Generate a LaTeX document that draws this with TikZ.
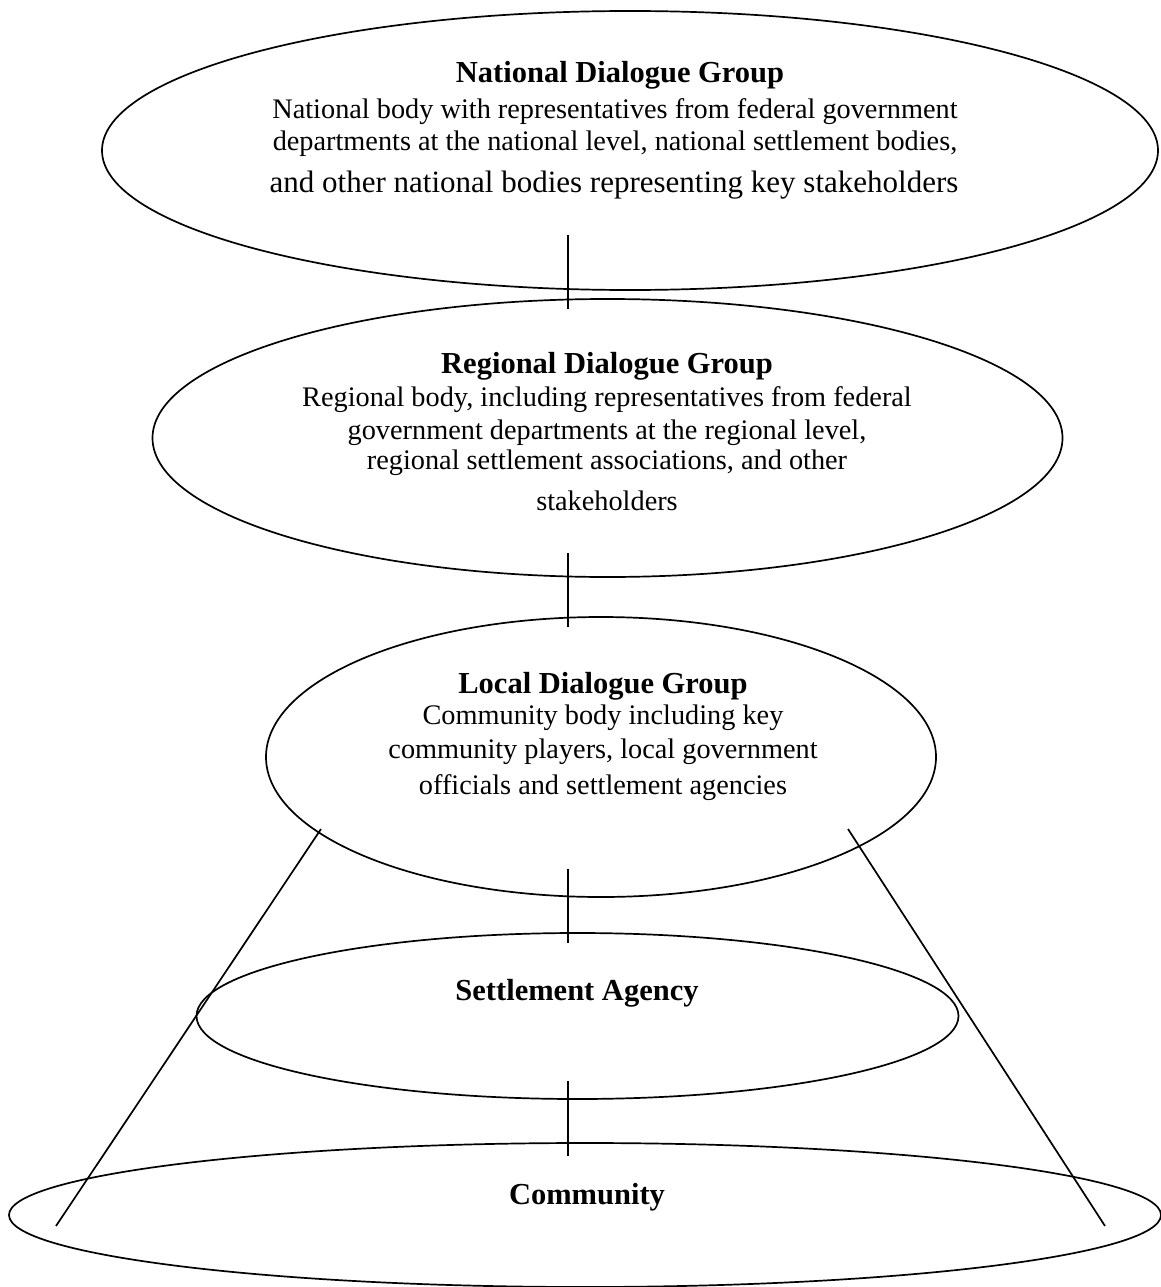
\documentclass[tikz,border=0pt]{standalone}
\usepackage{fontspec}
\setmainfont{Liberation Serif}
\usetikzlibrary{shapes.geometric}

\tikzset{
  grp/.style={draw,ellipse,line width=1.7pt,inner sep=0pt},
  head/.style={anchor=base,font=\fontsize{30.5}{36}\selectfont\bfseries},
  body/.style={anchor=base,font=\fontsize{28.3}{33}\selectfont},
  link/.style={line width=1.7pt},
}

\begin{document}
\begin{tikzpicture}[x=1pt,y=-1pt]
\useasboundingbox (0,0) rectangle (1161,1287);
% the five levels
\node[grp,minimum width=1056pt,minimum height=279pt] (nat) at (630,150.5){};
\node[grp,minimum width=910pt,minimum height=278pt] (reg) at (607.5,438){};
\node[grp,minimum width=670pt,minimum height=280pt] (loc) at (601,757){};
\node[grp,minimum width=762pt,minimum height=166pt] (agency) at (577.5,1016){};
\node[grp,minimum width=1152pt,minimum height=144pt] (comm) at (585,1215){};
% texts
\node[head] (natT) at (620,83){National Dialogue Group};
\node[body] (nat1) at (615,118){National body with representatives from federal government};
\node[body] (nat2) at (615,150){departments at the national level, national settlement bodies,};
\node[body,font=\fontsize{31}{36}\selectfont] (nat3) at (614,192){and other national bodies representing key stakeholders};
\node[head] (regT) at (607,373){Regional Dialogue Group};
\node[body] (reg1) at (607,406){Regional body, including representatives from federal};
\node[body] (reg2) at (607,439){government departments at the regional level,};
\node[body] (reg3) at (607,469){regional settlement associations, and other};
\node[body] (reg4) at (607,510){stakeholders};
\node[head] (locT) at (603,693){Local Dialogue Group};
\node[body] (loc1) at (603,724){Community body including key};
\node[body] (loc2) at (603,758){community players, local government};
\node[body] (loc3) at (603,794){officials and settlement agencies};
\node[head] (agencyT) at (577,1000){Settlement Agency};
\node[head] (commT) at (587,1204){Community};
% links between levels
\coordinate (c1a) at (568,235); \coordinate (c1b) at (568,309);
\coordinate (c2a) at (568,553); \coordinate (c2b) at (568,627);
\coordinate (c3a) at (568,869); \coordinate (c3b) at (568,943);
\coordinate (c4a) at (568,1081); \coordinate (c4b) at (568,1156);
\draw[link] (c1a) -- (c1b);
\draw[link] (c2a) -- (c2b);
\draw[link] (c3a) -- (c3b);
\draw[link] (c4a) -- (c4b);
% cone from local group to community
\coordinate (dla) at (321,829); \coordinate (dlb) at (56,1226);
\coordinate (dra) at (848,829); \coordinate (drb) at (1105,1226);
\draw[link] (dla) -- (dlb);
\draw[link] (dra) -- (drb);
\end{tikzpicture}
\end{document}
